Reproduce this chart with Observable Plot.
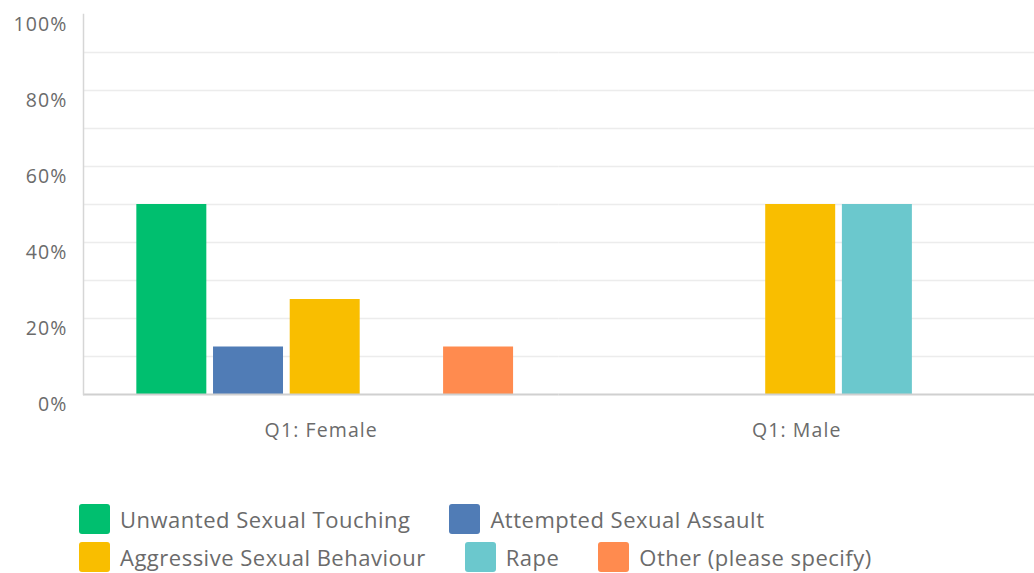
<!DOCTYPE html>
<html>
<head>
<meta charset="utf-8">
<script src="https://cdn.jsdelivr.net/npm/d3@7"></script>
<script src="https://cdn.jsdelivr.net/npm/@observablehq/plot@0.6"></script>
<style>
  html, body { margin: 0; padding: 0; background: #fff; }
  body { width: 1034px; height: 573px; overflow: hidden; font-family: "Open Sans", sans-serif; }
  #chart svg text { letter-spacing: 1.1px; }
  #legend { margin-top: 54px; padding-left: 79px; }
  .row { display: flex; align-items: center; height: 30px; margin-bottom: 8px; }
  .item { display: flex; align-items: center; margin-right: 39px; }
  .sw { width: 31px; height: 30px; border-radius: 3px; margin-right: 10px; }
  .lab { font-size: 22px; letter-spacing: 0.5px; color: #6b6b6b; white-space: nowrap; }
</style>
</head>
<body>
<div id="chart"></div>
<div id="legend"></div>
<script>
const groups = ["Q1: Female", "Q1: Male"];
const categories = [
  "Unwanted Sexual Touching",
  "Attempted Sexual Assault",
  "Aggressive Sexual Behaviour",
  "Rape",
  "Other (please specify)"
];
const colors = ["#00bf6f", "#507cb6", "#f9be00", "#6bc8cd", "#ff8b4f"];
const femaleValues = [50, 12.5, 25, 0, 12.5];
const maleValues = [0, 0, 50, 50, 0];
const yTicks = [0, 20, 40, 60, 80, 100];
const gridTicks = [10, 20, 30, 40, 50, 60, 70, 80, 90];
const legendRows = [[0, 1], [2, 3, 4]];

const data = [];
categories.forEach((c, i) => {
  data.push({group: groups[0], category: c, value: femaleValues[i]});
  data.push({group: groups[1], category: c, value: maleValues[i]});
});

const chart = Plot.plot({
  width: 1034,
  height: 450,
  marginLeft: 83,
  marginRight: 0,
  marginTop: 14,
  marginBottom: 56,
  style: {fontFamily: "'Open Sans', sans-serif", color: "#6b6b6b", background: "#fff"},
  fx: {domain: groups, paddingInner: 0, paddingOuter: 0, round: false, label: null},
  x: {domain: categories, paddingInner: 0.0874, paddingOuter: 0.644, align: 0.54, round: false, axis: null},
  y: {domain: [0, 100], axis: null, label: null},
  color: {domain: categories, range: colors},
  marks: [
    Plot.ruleY(gridTicks, {stroke: "#ececec", strokeWidth: 1.5}),
    Plot.barY(data.filter(d => d.value > 0), {fx: "group", x: "category", y: "value", fill: "category"}),
    Plot.ruleY([0], {stroke: "#d0d0d0", strokeWidth: 2}),
    Plot.frame({anchor: "left", facetAnchor: "left", stroke: "#d6d6d6", strokeWidth: 1.5}),
    Plot.axisY(yTicks, {tickSize: 0, tickPadding: 16, tickFormat: d => d + "%", dy: 10, fontSize: 19.5, fill: "#6b6b6b", label: null}),
    Plot.axisFx({anchor: "bottom", tickSize: 0, tickPadding: 29, fontSize: 19.5, fill: "#6b6b6b", label: null})
  ]
});
document.getElementById("chart").appendChild(chart);

const legend = document.getElementById("legend");
legendRows.forEach(row => {
  const r = document.createElement("div");
  r.className = "row";
  row.forEach(i => {
    const it = document.createElement("div");
    it.className = "item";
    const sw = document.createElement("div");
    sw.className = "sw";
    sw.style.background = colors[i];
    const lab = document.createElement("span");
    lab.className = "lab";
    lab.textContent = categories[i];
    it.appendChild(sw);
    it.appendChild(lab);
    r.appendChild(it);
  });
  legend.appendChild(r);
});
</script>
</body>
</html>
